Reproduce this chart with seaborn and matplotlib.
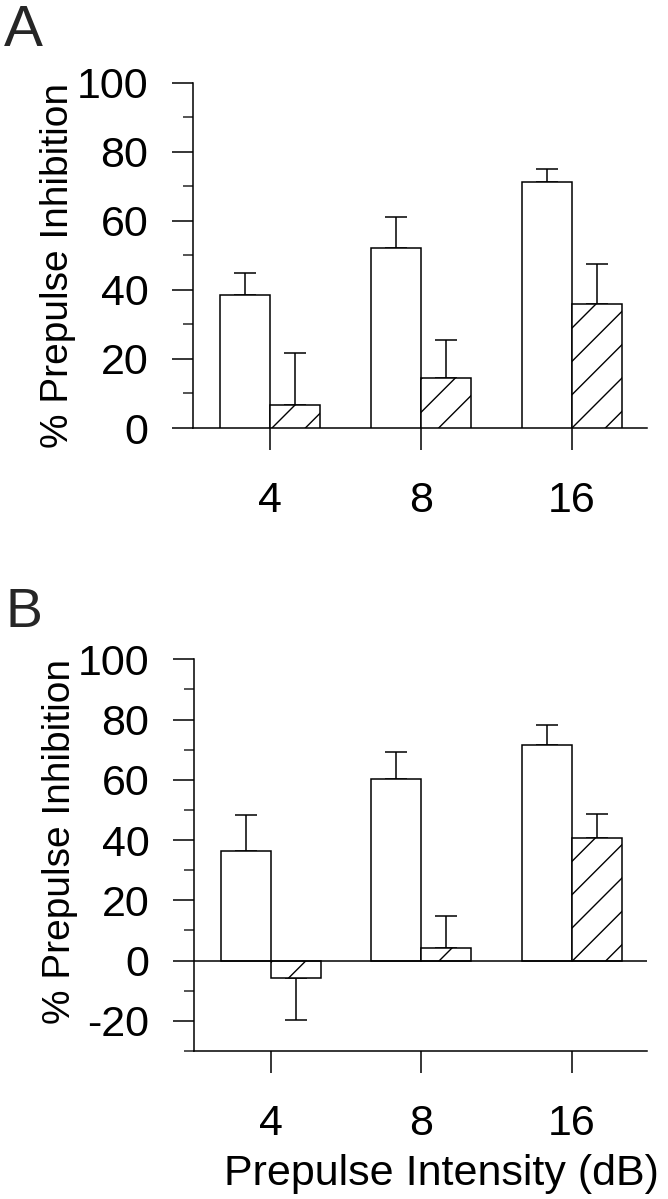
import matplotlib
matplotlib.use("Agg")
import matplotlib.pyplot as plt
import seaborn as sns
import pandas as pd
from matplotlib.ticker import MultipleLocator
from matplotlib.container import BarContainer

# ---- data ----
intensities = ["4", "8", "16"]
groups = ["Control", "Treated"]

a_control = [38.6, 52.1, 71.2]
a_control_err = [6.4, 9.0, 3.9]
a_treated = [6.8, 14.4, 35.9]
a_treated_err = [14.9, 11.1, 11.7]

b_control = [36.3, 60.4, 71.4]
b_control_err = [12.1, 8.7, 6.8]
b_treated = [-5.8, 4.2, 40.6]
b_treated_err = [13.9, 10.7, 8.0]

ylabel = "% Prepulse Inhibition"
xlabel = "Prepulse Intensity (dB)"

sns.set_style("ticks")
plt.rcParams["font.family"] = ["Liberation Sans", "DejaVu Sans"]
plt.rcParams["hatch.linewidth"] = 1.0
plt.rcParams["hatch.color"] = "black"
plt.rcParams["axes.unicode_minus"] = False

LW = 1.1
TICK_FS = 31
LABEL_FS = 28

fig = plt.figure(figsize=(6.68, 11.99), dpi=100)
W, H = 668, 1199

def px_axes(left, top, right, bottom):
    return [left / W, 1 - bottom / H, (right - left) / W, (bottom - top) / H]

ax_a = fig.add_axes(px_axes(193, 82.7, 647, 428))
ax_b = fig.add_axes(px_axes(194, 659.3, 647, 1051))

def panel(ax, ctrl, ctrl_err, trt, trt_err, ylim):
    df = pd.DataFrame({
        "intensity": intensities * 2,
        "group": [groups[0]] * 3 + [groups[1]] * 3,
        "value": ctrl + trt,
    })
    errs = [ctrl_err, trt_err]
    sns.barplot(data=df, x="intensity", y="value", hue="group",
                order=intensities, hue_order=groups, width=0.664,
                palette={groups[0]: "white", groups[1]: "white"},
                edgecolor="black", linewidth=LW, errorbar=None,
                saturation=1, legend=False, ax=ax, zorder=3)
    bar_conts = [c for c in ax.containers if isinstance(c, BarContainer)]
    for gi, cont in enumerate(bar_conts):
        for j, p in enumerate(cont.patches):
            if gi == 1:
                p.set_hatch("/")
            x = p.get_x() + p.get_width() / 2
            y = p.get_y() + p.get_height()
            e = errs[gi][j]
            yerr = [[0], [e]] if y >= 0 else [[e], [0]]
            ax.errorbar([x], [y], yerr=yerr, fmt="none", ecolor="black",
                        elinewidth=LW, capsize=7.9, capthick=LW, zorder=2)
    ax.set_xlim(-0.51, 2.5)
    ax.set_ylim(*ylim)
    ax.yaxis.set_major_locator(MultipleLocator(20))
    ax.yaxis.set_minor_locator(MultipleLocator(10))
    ax.tick_params(axis="y", which="major", direction="out", length=15.2,
                   width=LW, pad=17, labelsize=TICK_FS, colors="black")
    ax.tick_params(axis="y", which="minor", direction="out", length=7.5,
                   width=LW)
    ax.tick_params(axis="x", which="major", direction="out", length=16,
                   width=LW, pad=22, labelsize=TICK_FS, colors="black")
    for s in ["top", "right"]:
        ax.spines[s].set_visible(False)
    for s in ["left", "bottom"]:
        ax.spines[s].set_linewidth(LW)
        ax.spines[s].set_color("black")
    ax.set_xlabel("")
    ax.set_ylabel(ylabel, fontsize=LABEL_FS, color="black")
    ax.set_facecolor("white")

panel(ax_a, a_control, a_control_err, a_treated, a_treated_err, (0, 100))
panel(ax_b, b_control, b_control_err, b_treated, b_treated_err, (-30, 100))
ax_b.axhline(0, color="black", lw=LW, zorder=4)

ax_a.yaxis.set_label_coords(-0.258, 0.472)
ax_b.yaxis.set_label_coords(-0.256, 0.534)

ax_b.set_xlabel(xlabel, fontsize=31, color="black")
ax_b.xaxis.set_label_coords(0.547, -0.262)

fig.text(4 / W, 1 - 46 / H, "A", fontsize=42, ha="left", va="baseline")
fig.text(6 / W, 1 - 627 / H, "B", fontsize=40, ha="left", va="baseline")

fig.savefig("out.png", dpi=100, facecolor="white")
